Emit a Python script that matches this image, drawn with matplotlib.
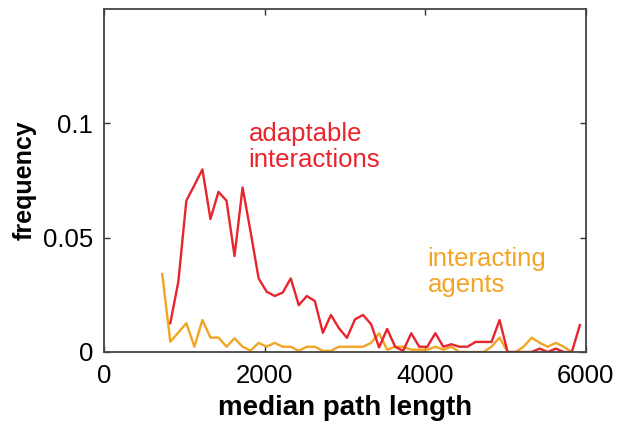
import numpy as np
import matplotlib
matplotlib.use('Agg')
import matplotlib.pyplot as plt

plt.rcParams['font.family'] = ['Liberation Sans', 'DejaVu Sans']

# bin centres (median path length)
adapt_x = np.arange(825, 6000, 100)
agents_x = np.arange(725, 5900, 100)

adapt_freq = [0.0126, 0.0307, 0.0662, 0.073, 0.0799, 0.0582, 0.0701, 0.0662, 0.042, 0.072,
              0.0526, 0.0322, 0.0264, 0.0245, 0.026, 0.0322, 0.0205, 0.0245, 0.0223, 0.0084,
              0.0162, 0.0104, 0.0062, 0.0143, 0.0162, 0.0122, 0.002, 0.0101, 0.0023, 0.0005,
              0.0082, 0.0023, 0.0023, 0.0082, 0.0023, 0.0034, 0.0023, 0.0023, 0.0044, 0.0044,
              0.0044, 0.014, 0.0, 0.0, 0.0, 0.0, 0.0015, 0.0, 0.0015, 0.0,
              0.0, 0.0118]

agents_freq = [0.0341, 0.0045, 0.0085, 0.0126, 0.0023, 0.014, 0.0063, 0.0063, 0.0023, 0.006,
               0.0023, 0.0006, 0.004, 0.0023, 0.004, 0.0023, 0.0023, 0.0005, 0.0023, 0.0023,
               0.0005, 0.0005, 0.0023, 0.0023, 0.0023, 0.0023, 0.004, 0.0082, 0.001, 0.0023,
               0.0023, 0.001, 0.001, 0.001, 0.0023, 0.001, 0.0023, 0.0, 0.0, 0.0,
               0.0, 0.0023, 0.0063, 0.0, 0.0, 0.0023, 0.0063, 0.004, 0.0023, 0.004,
               0.0023, 0.0]

red = '#e8242c'
orange = '#f2a424'

fig = plt.figure(figsize=(6.17, 4.29), dpi=100)
ax = fig.add_axes([0.1686, 0.1795, 0.781, 0.799])

ax.plot(agents_x, agents_freq, color=orange, lw=1.7)
ax.plot(adapt_x, adapt_freq, color=red, lw=1.7)

ax.set_xlim(0, 6000)
ax.set_ylim(0, 0.15)
ax.set_xticks([0, 2000, 4000, 6000])
ax.set_yticks([0, 0.05, 0.1])
ax.set_yticklabels(['0', '0.05', '0.1'])
ax.tick_params(direction='in', length=4, width=1, top=True, right=True,
               labelsize=18.5, colors='#333333', labelcolor='black')
ax.tick_params(axis='x', pad=9)
ax.tick_params(axis='y', pad=8)
for s in ax.spines.values():
    s.set_linewidth(1.3)
    s.set_color('#444444')

ax.set_xlabel('median path length', fontsize=20, fontweight='bold', labelpad=5)
ax.set_ylabel('frequency', fontsize=18, fontweight='bold', labelpad=4)

ax.text(1800, 0.1005, 'adaptable\ninteractions', color=red, fontsize=18.5,
        ha='left', va='top', linespacing=1.1)
ax.text(4030, 0.0460, 'interacting\nagents', color=orange, fontsize=18.5,
        ha='left', va='top', linespacing=1.1)

fig.savefig('out.png', dpi=100)
